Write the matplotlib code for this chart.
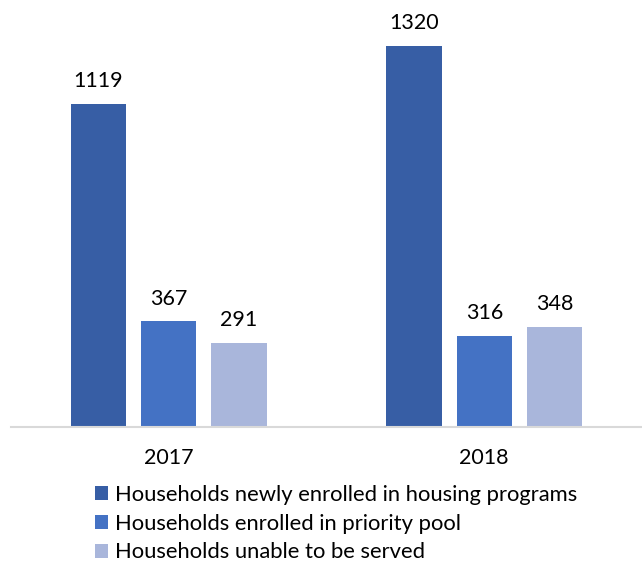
import numpy as np
import matplotlib.pyplot as plt

# data
years = ['2017', '2018']
series = ['Households newly enrolled in housing programs',
          'Households enrolled in priority pool',
          'Households unable to be served']
newly_enrolled = [1119, 1320]
priority_pool = [367, 316]
unable_served = [291, 348]
colors = ['#375EA5', '#4472C4', '#A9B6DB']

plt.rcParams['font.family'] = ['Lato', 'DejaVu Sans']

fig = plt.figure(figsize=(6.42, 5.65), dpi=100)
ax = fig.add_axes([11 / 642, 1 - 427 / 565, 631 / 642, 427 / 565])

x = np.arange(len(years))
pitch = 70 / 314
width = 55 / 314
for i, (vals, name) in enumerate(zip([newly_enrolled, priority_pool, unable_served], series)):
    bars = ax.bar(x + (i - 1) * pitch, vals, width, color=colors[i], label=name)
    for b, v in zip(bars, vals):
        ax.annotate(str(v), (b.get_x() + b.get_width() / 2, v),
                    xytext=(0, 9), textcoords='offset points',
                    ha='center', va='bottom', fontsize=15.5)

ax.set_xlim(-0.5, 1.5)
ax.set_ylim(0, 1479)
ax.set_xticks(x)
ax.set_xticklabels(years, fontsize=15.5)
ax.tick_params(axis='x', length=0, pad=15)
ax.set_yticks([])
for s in ['top', 'right', 'left']:
    ax.spines[s].set_visible(False)
ax.spines['bottom'].set_color('#D9D9D9')
ax.spines['bottom'].set_linewidth(1.5)

fig.legend(loc='upper left', bbox_to_anchor=(86 / 642, 1 - 476 / 565),
           frameon=False, fontsize=15.8, handlelength=0.6, handleheight=0.6,
           handletextpad=0.3, labelspacing=0.4, borderaxespad=0)

fig.savefig('out.png', dpi=100)
